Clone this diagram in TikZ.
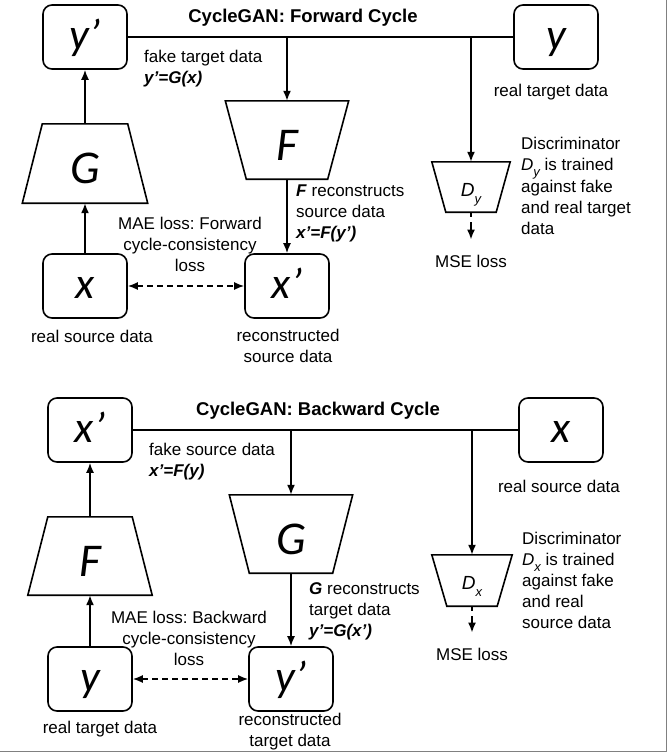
\documentclass[tikz,border=0pt]{standalone}
\usepackage{fontspec}
\setmainfont{Liberation Sans}
\newfontfamily\letterfont{Carlito}
\usetikzlibrary{shapes.geometric,arrows.meta}
\frenchspacing

\newcommand\dsub[2]{\textit{D}\raisebox{#2}{\fontsize{13}{13}\selectfont\itshape #1}}
\newcommand\eqn[1]{\textbf{\textit{#1}}}

\tikzset{
  wire/.style={line width=1.6},
  databox/.style={draw, wire, rounded corners=9, minimum width=84,
    minimum height=64, inner sep=0, text height=24, text depth=0,
    font=\letterfont\itshape\fontsize{44}{44}\selectfont},
  net/.style={inner sep=0, minimum width=124, minimum height=79,
    text height=40, text depth=0,
    font=\letterfont\itshape\fontsize{47}{47}\selectfont},
  disc/.style={net, minimum width=79, minimum height=50,
    text height=18, font=\itshape\fontsize{19}{19}\selectfont},
  % outline of a trapezium with the narrow side up or down
  narrowtop/.style={append after command={\pgfextra{\draw[wire]
    (\tikzlastnode.south west) -- (\tikzlastnode.south east)
    -- ([xshift=-#1]\tikzlastnode.north east)
    -- ([xshift=#1]\tikzlastnode.north west) -- cycle;}}},
  narrowbottom/.style={append after command={\pgfextra{\draw[wire]
    (\tikzlastnode.north west) -- (\tikzlastnode.north east)
    -- ([xshift=-#1]\tikzlastnode.south east)
    -- ([xshift=#1]\tikzlastnode.south west) -- cycle;}}},
  txt/.style={inner sep=0, align=center, font=\fontsize{17}{21}\selectfont},
  ltxt/.style={txt, align=left, anchor=west},
  title/.style={inner sep=0, font=\bfseries\fontsize{18.5}{21}\selectfont},
  arrow/.style={wire, -{Latex[length=10,width=8]}},
  loss/.style={wire, dash pattern=on 6 off 4,
    {Latex[length=10,width=8]}-{Latex[length=10,width=8]}},
  mse/.style={arrow, dash pattern=on 5 off 5 on 20},
}

\begin{document}
\begin{tikzpicture}[x=1pt, y=-1pt]
  \useasboundingbox (0,0) rectangle (667,753);

  % forward cycle
  \node[title] (ftitle) at (303,18) {CycleGAN: Forward Cycle};
  \node[databox] (fyp) at (85,37) {y’};
  \node[databox] (fy) at (556,37) {y};
  \node[net, minimum width=125, narrowtop=20] (fG) at (85,163.5) {G};
  \node[net, minimum width=123, minimum height=78, narrowbottom=21] (fF) at (287,140) {F};
  \node[disc, minimum width=78, narrowbottom=14] (fD) at (471,187) {\dsub{y}{-7pt}};
  \node[databox] (fx) at (85,286) {x};
  \node[databox] (fxp) at (287,286) {x’};

  \node[ltxt] (ffake) at (144,69) {fake target data\\ \eqn{y’=G(x)}};
  \node[txt] (freal) at (551,92) {real target data};
  \node[ltxt] (frec) at (296,213) {\eqn{F} reconstructs\\ source data\\ \eqn{x’=F(y’)}};
  \node[txt] (fmae) at (190,244) {MAE loss: Forward\\ cycle-consistency\\ loss};
  \node[txt] (fsrc) at (92,336) {real source data};
  \node[txt] (fxlab) at (288,346) {reconstructed\\ source data};
  \node[ltxt] (fdisc) at (521,186) {Discriminator\\ \dsub{y}{-6pt} is trained\\ against fake\\ and real target\\ data};
  \node[txt] (fmse) at (471,261) {MSE loss};

  \draw[wire] (fyp.east) -- (fy.west);
  \draw[arrow] (fyp.east -| fF.north) -- (fF.north);
  \draw[arrow] (fyp.east -| fD.north) -- (fD.north);
  \draw[arrow] (fG.north) -- (fyp.south);
  \draw[arrow] (fx.north) -- (fG.south);
  \draw[arrow] (fF.south) -- (fxp.north);
  \draw[loss] (fx.east) -- (fxp.west);
  \draw[mse] (fD.south) -- ([yshift=15]fmse.north);

  % backward cycle
  \node[title] (btitle) at (318,411) {CycleGAN: Backward Cycle};
  \node[databox] (bxp) at (90,430) {x’};
  \node[databox] (bx) at (561,430) {x};
  \node[net, minimum height=78, narrowtop=20] (bF) at (90,556) {F};
  \node[net, minimum width=123, minimum height=78, narrowbottom=20] (bG) at (291,534) {G};
  \node[disc, minimum width=80, minimum height=51, narrowbottom=15] (bD) at (472,580.5) {\dsub{x}{-7pt}};
  \node[databox] (by) at (90,679) {y};
  \node[databox] (byp) at (291,679) {y’};

  \node[ltxt] (bfake) at (149,461.5) {fake source data\\ \eqn{x’=F(y)}};
  \node[txt] (breal) at (559,486) {real source data};
  \node[ltxt] (brec) at (309,611) {\eqn{G} reconstructs\\ target data\\ \eqn{y’=G(x’)}};
  \node[txt] (bmae) at (189,638) {MAE loss: Backward\\ cycle-consistency\\ loss};
  \node[txt] (btgt) at (100,729) {real target data};
  \node[txt] (bylab) at (290,732) {reconstructed\\ target data};
  \node[ltxt] (bdisc) at (522,580) {Discriminator\\ \dsub{x}{-6pt} is trained\\ against fake\\ and real\\ source data};
  \node[txt] (bmse) at (472,654) {MSE loss};

  \draw[wire] (bxp.east) -- (bx.west);
  \draw[arrow] (bxp.east -| bG.north) -- (bG.north);
  \draw[arrow] (bxp.east -| bD.north) -- (bD.north);
  \draw[arrow] (bF.north) -- (bxp.south);
  \draw[arrow] (by.north) -- (bF.south);
  \draw[arrow] (bG.south) -- (byp.north);
  \draw[loss] (by.east) -- (byp.west);
  \draw[mse] (bD.south) -- ([yshift=15]bmse.north);

  % frame edge
  \draw[gray, line width=1] (0,751) -- (666,751) -- (666,0);
\end{tikzpicture}
\end{document}
